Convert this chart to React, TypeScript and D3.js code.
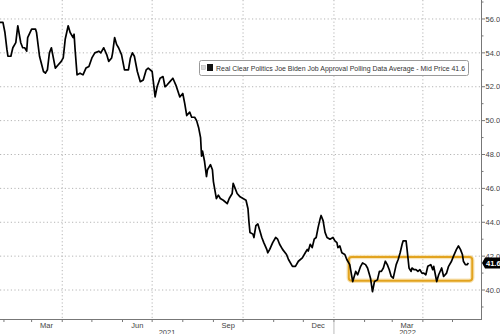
import React from "react";
import * as d3 from "d3";

const seriesName = "Real Clear Politics Joe Biden Job Approval Polling Data Average - Mid Price 41.6";
const lastPrice = "41.6";

const dates: string[] = [
  "2021-01-28","2021-01-31","2021-02-02","2021-02-04","2021-02-05","2021-02-08","2021-02-10","2021-02-13","2021-02-15","2021-02-18",
  "2021-02-20","2021-02-22","2021-02-24","2021-02-25","2021-03-01","2021-03-05","2021-03-06","2021-03-09","2021-03-13","2021-03-15",
  "2021-03-17","2021-03-19","2021-03-21","2021-03-23","2021-03-25","2021-03-28","2021-03-31","2021-04-02","2021-04-04","2021-04-07",
  "2021-04-09","2021-04-12","2021-04-13","2021-04-14","2021-04-16","2021-04-19","2021-04-22","2021-04-25","2021-04-28","2021-05-01",
  "2021-05-04","2021-05-08","2021-05-10","2021-05-13","2021-05-16","2021-05-18","2021-05-21","2021-05-22","2021-05-24","2021-05-26",
  "2021-05-28","2021-05-31","2021-06-03","2021-06-07","2021-06-09","2021-06-11","2021-06-13","2021-06-16","2021-06-19","2021-06-22",
  "2021-06-25","2021-06-27","2021-07-01","2021-07-04","2021-07-06","2021-07-09","2021-07-12","2021-07-14","2021-07-16","2021-07-19",
  "2021-07-22","2021-07-25","2021-07-29","2021-08-01","2021-08-03","2021-08-05","2021-08-08","2021-08-10","2021-08-13","2021-08-15",
  "2021-08-17","2021-08-19","2021-08-20","2021-08-21","2021-08-23","2021-08-25","2021-08-26","2021-08-29","2021-08-31","2021-09-01",
  "2021-09-04","2021-09-06","2021-09-08","2021-09-11","2021-09-15","2021-09-17","2021-09-20","2021-09-21","2021-09-23","2021-09-25",
  "2021-09-28","2021-10-01","2021-10-04","2021-10-06","2021-10-07","2021-10-08","2021-10-11","2021-10-12","2021-10-14","2021-10-16",
  "2021-10-18","2021-10-20","2021-10-22","2021-10-25","2021-10-26","2021-10-28","2021-10-31","2021-11-03","2021-11-05","2021-11-07",
  "2021-11-10","2021-11-14","2021-11-16","2021-11-20","2021-11-23","2021-11-26","2021-11-30","2021-12-03","2021-12-05","2021-12-06",
  "2021-12-08","2021-12-10","2021-12-12","2021-12-14","2021-12-16","2021-12-18","2021-12-19","2021-12-21","2021-12-23","2021-12-25",
  "2021-12-28","2021-12-31","2022-01-02","2022-01-04","2022-01-05","2022-01-07","2022-01-09","2022-01-12","2022-01-14","2022-01-17",
  "2022-01-20","2022-01-23","2022-01-25","2022-01-28","2022-01-30","2022-02-02","2022-02-04","2022-02-07","2022-02-09","2022-02-11",
  "2022-02-14","2022-02-16","2022-02-18","2022-02-20","2022-02-22","2022-02-24","2022-02-26","2022-02-28","2022-03-02","2022-03-05",
  "2022-03-07","2022-03-09","2022-03-11","2022-03-12","2022-03-15","2022-03-16","2022-03-18","2022-03-20","2022-03-21","2022-03-23",
  "2022-03-25","2022-03-27","2022-03-29","2022-03-31","2022-04-02","2022-04-04","2022-04-06","2022-04-09","2022-04-11","2022-04-12",
  "2022-04-14","2022-04-15","2022-04-17","2022-04-20","2022-04-22","2022-04-25","2022-04-27","2022-04-30","2022-05-02","2022-05-05",
  "2022-05-07","2022-05-09","2022-05-11","2022-05-12","2022-05-14","2022-05-16","2022-05-17"
];

const approval: number[] = [
  55.8,55.8,55.2,54.2,53.8,53.8,54.3,54.6,55.6,54.6,
  54.3,54.3,54.1,54.9,55.4,55.4,55.2,53.8,52.9,52.8,
  53.0,54.0,54.3,53.7,53.1,53.3,53.5,53.7,54.8,55.6,
  55.2,54.9,55.1,54.2,52.7,52.8,52.7,53.1,53.2,53.7,
  54.0,54.1,54.0,54.3,53.9,53.5,53.7,54.0,54.9,54.5,
  54.3,53.9,53.0,53.0,53.7,54.0,53.8,52.9,52.3,52.4,
  53.0,53.1,52.9,51.4,52.0,52.5,52.6,52.0,52.1,52.3,
  52.5,52.1,51.4,51.6,51.0,50.3,50.5,50.2,50.2,50.0,
  49.6,49.0,47.9,48.2,47.6,46.7,47.1,47.4,47.1,46.4,
  45.4,45.6,45.4,45.3,45.1,45.4,45.7,46.3,46.0,45.7,
  45.5,45.4,45.3,44.8,44.0,43.4,43.3,43.1,43.8,43.9,
  43.5,43.1,42.8,42.4,42.2,42.4,42.8,43.1,43.0,42.7,
  42.4,42.1,41.8,41.4,41.4,41.7,41.9,42.2,42.4,42.3,
  42.7,42.5,43.0,43.1,43.7,44.2,44.4,44.1,43.4,43.1,
  43.0,43.1,42.9,42.8,42.5,42.6,42.2,42.1,41.8,41.5,
  40.5,41.1,40.9,41.4,41.6,41.5,41.3,40.7,39.9,40.5,
  40.6,41.1,41.1,41.3,41.7,41.5,41.2,40.8,40.7,41.5,
  41.8,42.2,42.7,42.9,42.9,42.4,41.3,41.1,41.3,41.2,
  41.2,41.1,41.2,41.0,41.0,40.9,41.4,41.5,41.2,41.4,
  40.8,40.5,40.9,41.3,40.8,41.0,41.4,41.7,42.0,42.4,
  42.6,42.4,42.1,41.7,41.5,41.5,41.6
];

const yTicks: number[] = [40, 42, 44, 46, 48, 50, 52, 54, 56];
const yMinorTicks: number[] = [39, 41, 43, 45, 47, 49, 51, 53, 55, 57];
const gridDates: string[] = ["2021-04-01", "2021-07-01", "2021-10-01", "2022-01-01", "2022-04-01"];
const monthLabels: string[] = ["Mar", "Jun", "Sep", "Dec", "Mar"];
const monthLabelDates: string[] = ["2021-03-16", "2021-06-16", "2021-09-16", "2021-12-16", "2022-03-16"];
const yearLabels: string[] = ["2021", "2022"];
const highlightStart = "2022-01-16";
const highlightEnd = "2022-05-21";
const highlightLow = 40.55;
const highlightHigh = 41.95;

const W = 500;
const H = 334;
const plotRight = 481;
const plotBottom = 319;

const parse = d3.timeParse("%Y-%m-%d");

export default function App() {
  const x = d3
    .scaleTime()
    .domain([new Date(2021, 0, 28), new Date(2022, 4, 29, 20)])
    .range([0, plotRight]);
  const y = d3.scaleLinear().domain([38.29, 57.12]).range([plotBottom, 0]);

  const data = dates.map((d, i) => ({ date: parse(d) as Date, v: approval[i] }));
  const line = d3
    .line<{ date: Date; v: number }>()
    .x((d) => x(d.date))
    .y((d) => y(d.v));

  const monthTicks = d3.timeMonth.range(new Date(2021, 1, 1), new Date(2022, 5, 1));
  const yearBoundary = new Date(2022, 0, 1);
  const yearCenters = [
    (0 + x(yearBoundary)) / 2,
    (x(yearBoundary) + plotRight) / 2,
  ];

  const font = "'Liberation Sans', Arial, sans-serif";
  const lastY = y(approval[approval.length - 1]);

  const hx0 = x(parse(highlightStart) as Date);
  const hx1 = x(parse(highlightEnd) as Date);
  const hy0 = y(highlightHigh);
  const hy1 = y(highlightLow);

  return (
    <svg
      width={W}
      height={H}
      style={{ position: "fixed", left: 0, top: 0, background: "#fff" }}
      fontFamily={font}
    >
      <rect x={0} y={0} width={W} height={H} fill="#fff" />
      {/* horizontal grid */}
      {yTicks.map((t) => (
        <line
          key={"hg" + t}
          x1={0}
          x2={plotRight}
          y1={y(t)}
          y2={y(t)}
          stroke="#b5b5b5"
          strokeWidth={1}
          strokeDasharray="1.2,2.4"
        />
      ))}
      {/* vertical grid */}
      {gridDates.map((g) => (
        <line
          key={"vg" + g}
          x1={x(parse(g) as Date)}
          x2={x(parse(g) as Date)}
          y1={0}
          y2={plotBottom}
          stroke="#b5b5b5"
          strokeWidth={1}
          strokeDasharray="1.2,2.4"
        />
      ))}

      {/* legend */}
      <rect x={199.5} y={60.5} width={269} height={15} fill="#fff" stroke="#9a9a9a" strokeWidth={1} rx={2} />
      <rect x={201.5} y={65.5} width={4} height={4} fill="#d8d8d8" stroke="#aaa" strokeWidth={0.5} />
      <rect x={207} y={64} width={6} height={7} fill="#111" />
      <text x={216} y={71} fontSize={8} fill="#333" textLength={249} lengthAdjust="spacingAndGlyphs">
        {seriesName}
      </text>

      {/* highlight box */}
      <rect
        x={hx0}
        y={hy0}
        width={hx1 - hx0}
        height={hy1 - hy0}
        fill="none"
        stroke="#f3d38a"
        strokeWidth={4.5}
        rx={3}
        opacity={0.6}
      />
      <rect
        x={hx0}
        y={hy0}
        width={hx1 - hx0}
        height={hy1 - hy0}
        fill="none"
        stroke="#e2a31e"
        strokeWidth={2}
        rx={3}
      />

      {/* series line */}
      <path d={line(data) || ""} fill="none" stroke="#000" strokeWidth={1.7} strokeLinejoin="round" />

      {/* x axis */}
      <line x1={0} x2={plotRight} y1={plotBottom + 0.5} y2={plotBottom + 0.5} stroke="#777" strokeWidth={1} />
      {monthTicks.map((m) => (
        <line
          key={"mt" + m.getTime()}
          x1={x(m)}
          x2={x(m)}
          y1={plotBottom}
          y2={plotBottom + 3}
          stroke="#777"
          strokeWidth={1}
        />
      ))}
      <line x1={x(yearBoundary)} x2={x(yearBoundary)} y1={plotBottom + 3} y2={H} stroke="#bbb" strokeWidth={1} />
      {monthLabels.map((l, i) => (
        <text
          key={"ml" + i}
          x={x(parse(monthLabelDates[i]) as Date)}
          y={plotBottom + 9}
          fontSize={7.5}
          fill="#444"
          textAnchor="middle"
        >
          {l}
        </text>
      ))}
      {yearLabels.map((l, i) => (
        <text key={"yl" + l} x={yearCenters[i]} y={H + 1} fontSize={7.5} fill="#444" textAnchor="middle">
          {l}
        </text>
      ))}

      {/* y axis */}
      <line x1={plotRight + 0.5} x2={plotRight + 0.5} y1={0} y2={plotBottom + 1} stroke="#777" strokeWidth={1} />
      {yMinorTicks.map((t) => (
        <line key={"ym" + t} x1={plotRight} x2={plotRight + 2.5} y1={y(t)} y2={y(t)} stroke="#777" strokeWidth={1} />
      ))}
      {yTicks.map((t) => (
        <g key={"yt" + t}>
          <line x1={plotRight} x2={plotRight + 4} y1={y(t)} y2={y(t)} stroke="#777" strokeWidth={1} />
          <text x={plotRight + 4.5} y={y(t) + 2.7} fontSize={7.5} fill="#444">
            {t.toFixed(1)}
          </text>
        </g>
      ))}

      {/* last price tag */}
      <path
        d={`M${plotRight + 1},${lastY} L${plotRight + 4},${lastY - 5.5} L${W},${lastY - 5.5} L${W},${lastY + 5.5} L${plotRight + 4},${lastY + 5.5} Z`}
        fill="#000"
      />
      <text x={plotRight + 5} y={lastY + 2.7} fontSize={7.5} fill="#fff" fontWeight="bold">
        {lastPrice}
      </text>
    </svg>
  );
}
